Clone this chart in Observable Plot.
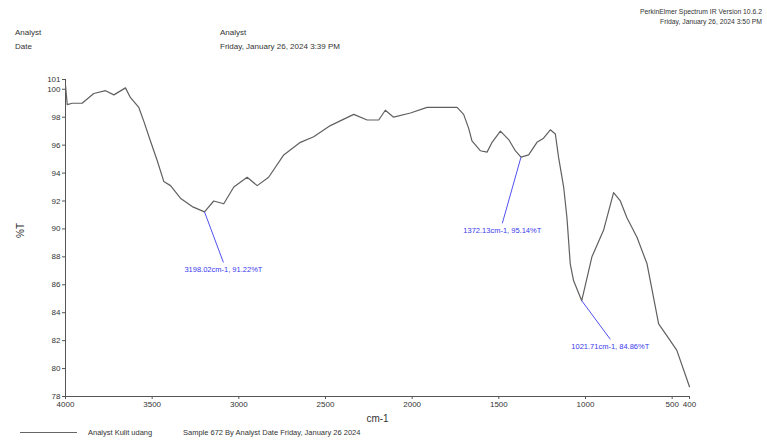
<!DOCTYPE html>
<html>
<head>
<meta charset="utf-8">
<script src="https://cdn.jsdelivr.net/npm/d3@7"></script>
<script src="https://cdn.jsdelivr.net/npm/@observablehq/plot@0.6"></script>
<style>
  body { margin: 0; background: #fff; }
  #wrap { position: relative; width: 767px; height: 448px; overflow: hidden; font-family: "Liberation Sans", Arial, sans-serif; color: #333; }
  #chart { position: absolute; left: 0; top: 0; }
  .t { position: absolute; font-size: 8px; line-height: 8px; white-space: nowrap; }
  .s { font-size: 6.8px; line-height: 10px; }
</style>
</head>
<body>
<div id="wrap">
  <div id="chart"></div>
</div>
<script>
// Spectrum trace (wavenumber cm-1, %T)
const wavenumber = [4000, 3990, 3961, 3904, 3837, 3769, 3721, 3654, 3625, 3577, 3548, 3510, 3471, 3433, 3394, 3337, 3269, 3198.02, 3145, 3087, 3029, 2952, 2894, 2828, 2741, 2645, 2568, 2472, 2337, 2260, 2193, 2155, 2107, 2010, 1914, 1741, 1703, 1674, 1655, 1607, 1568, 1539, 1491, 1443, 1405, 1372.13, 1328, 1280, 1242, 1203, 1174, 1155, 1126, 1107, 1088, 1069, 1021.71, 963, 896, 838, 799, 761, 703, 645, 578, 522, 473, 400];
const transmittance = [100.3, 98.9, 99.0, 99.0, 99.7, 99.9, 99.6, 100.1, 99.4, 98.7, 97.7, 96.3, 94.9, 93.4, 93.1, 92.2, 91.6, 91.22, 92.0, 91.8, 93.0, 93.7, 93.1, 93.7, 95.3, 96.2, 96.6, 97.4, 98.2, 97.8, 97.8, 98.5, 98.0, 98.3, 98.7, 98.7, 98.2, 97.2, 96.3, 95.6, 95.5, 96.2, 97.0, 96.4, 95.6, 95.14, 95.3, 96.2, 96.5, 97.1, 96.8, 95.1, 93.0, 90.8, 87.5, 86.3, 84.86, 88.0, 89.9, 92.6, 92.0, 90.8, 89.4, 87.5, 83.2, 82.2, 81.3, 78.7];

// Axis ticks
const xTicks = [4000, 3500, 3000, 2500, 2000, 1500, 1000, 500, 400];
const yTicks = [100.7, 100, 98, 96, 94, 92, 90, 88, 86, 84, 82, 80, 78];
const yTickLabels = ["101", "100", "98", "96", "94", "92", "90", "88", "86", "84", "82", "80", "78"];

// Peak annotations
const peakCm = [3198.02, 1372.13, 1021.71];
const peakT = [91.22, 95.14, 84.86];
const peakLabels = ["3198.02cm-1, 91.22%T", "1372.13cm-1, 95.14%T", "1021.71cm-1, 84.86%T"];
const calloutCm = [3089, 1480, 857];
const calloutT = [87.6, 90.4, 82.1];

// Texts
const headerLeft = ["Analyst", "Date"];
const headerMid = ["Analyst", "Friday, January 26, 2024 3:39 PM"];
const headerRight = ["PerkinElmer Spectrum IR Version 10.6.2", "Friday, January 26, 2024 3:50 PM"];
const legendTexts = ["Analyst Kulit udang", "Sample 672 By Analyst Date Friday, January 26 2024"];

const spectrum = wavenumber.map((w, i) => ({w, t: transmittance[i]}));
const peaks = peakCm.map((w, i) => ({w, t: peakT[i], w2: calloutCm[i], t2: calloutT[i], label: peakLabels[i]}));

const chart = Plot.plot({
  width: 767,
  height: 448,
  marginLeft: 65,
  marginRight: 78,
  marginTop: 79,
  marginBottom: 52,
  style: {fontFamily: "Liberation Sans, Arial, sans-serif", fontSize: "8px", color: "#333", background: "transparent"},
  x: {domain: [4000, 400], label: null},
  y: {domain: [78, 100.7], label: null},
  marks: [
    Plot.ruleX([4000], {stroke: "#555", strokeWidth: 1}),
    Plot.ruleY([78], {stroke: "#555", strokeWidth: 1}),
    Plot.axisX({ticks: xTicks, tickSize: 3, tickPadding: 2, tickFormat: d => String(d), stroke: "#555", label: null}),
    Plot.axisY({ticks: yTicks, tickSize: 3, tickPadding: 2, tickFormat: d => yTickLabels[yTicks.indexOf(d)], stroke: "#555", label: null}),
    Plot.line(spectrum, {x: "w", y: "t", stroke: "#606060", strokeWidth: 1.2, curve: "linear"}),
    Plot.link(peaks, {x1: "w", y1: "t", x2: "w2", y2: "t2", stroke: "#5050f0", strokeWidth: 1}),
    Plot.text(peaks, {x: "w2", y: "t2", text: "label", dy: 7, fill: "#3a3af0", fontSize: 7.5, textAnchor: "middle"}),
    Plot.text(["%T"], {frameAnchor: "left", dx: -45, rotate: -90, fontSize: 10, fill: "#333"}),
    Plot.text(["cm-1"], {frameAnchor: "bottom", dy: 25, fontSize: 10, fill: "#333"})
  ]
});
document.getElementById("chart").appendChild(chart);

const wrap = document.getElementById("wrap");
function addText(txt, style, cls) {
  const d = document.createElement("div");
  d.className = cls || "t";
  d.textContent = txt;
  Object.assign(d.style, style);
  wrap.appendChild(d);
  return d;
}
addText(headerLeft[0], {left: "15px", top: "29px"});
addText(headerLeft[1], {left: "15px", top: "43px"});
addText(headerMid[0], {left: "220px", top: "29px"});
addText(headerMid[1], {left: "220px", top: "43px"});
addText(headerRight[0], {right: "5px", top: "7px", textAlign: "right"}, "t s");
addText(headerRight[1], {right: "5px", top: "17px", textAlign: "right"}, "t s");

// legend
const seg = document.createElement("div");
Object.assign(seg.style, {position: "absolute", left: "20px", top: "432px", width: "57px", height: "0", borderTop: "1.5px solid #666"});
wrap.appendChild(seg);
addText(legendTexts[0], {left: "88px", top: "429px", fontSize: "7.5px"});
addText(legendTexts[1], {left: "183px", top: "429px", fontSize: "7.5px"});
</script>
</body>
</html>
